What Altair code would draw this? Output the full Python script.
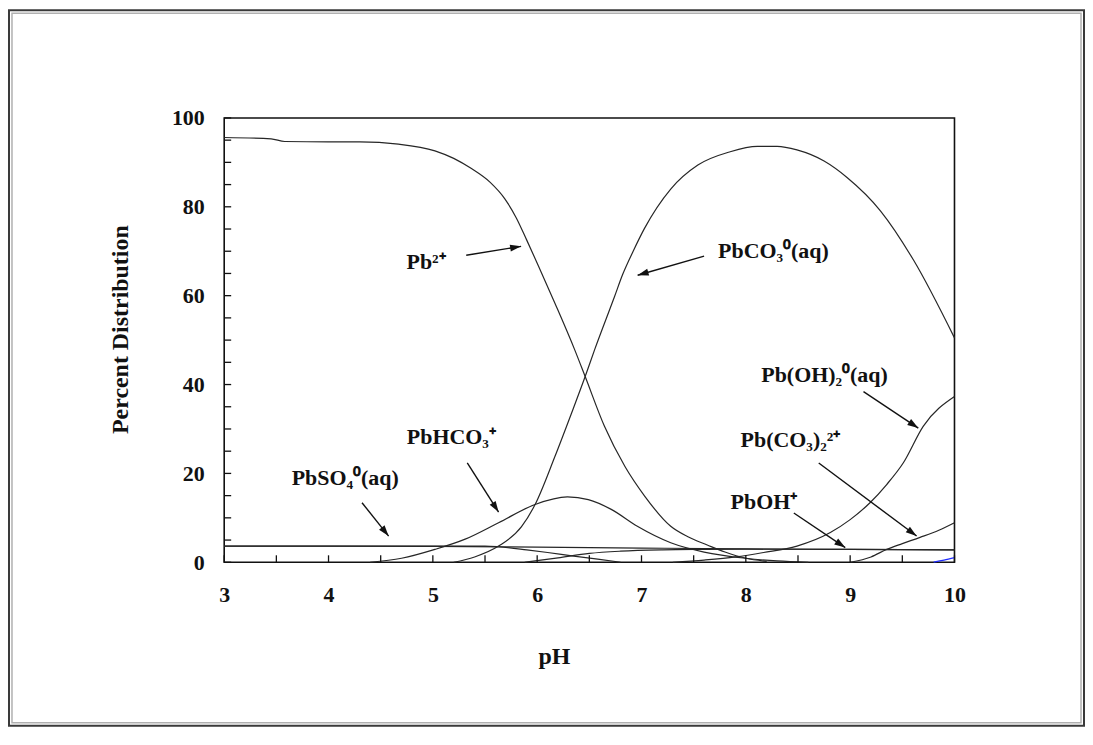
import math
import altair as alt
import pandas as pd

# ---------------- geometry (plot area) ----------------
W, H = 733, 446
PAD_L, PAD_T = 217, 109
SVG_W, SVG_H = 1081, 720
X_MIN, X_MAX = 3, 10
Y_MIN, Y_MAX = 0, 100
FONT = "Liberation Serif"
FS = 22
TFS = 24

# ---------------- data ----------------
ph_pb2 = [3.0, 3.45, 3.58, 4.0, 4.3, 4.67, 5.02, 5.2, 5.37, 5.55, 5.69, 5.8, 5.9, 6.01, 6.17,
          6.36, 6.46, 6.645, 6.84, 7.03, 7.28, 7.44, 7.63, 7.8, 8.0, 8.2]
pct_pb2 = [95.6, 95.3, 94.7, 94.6, 94.6, 94.1, 92.6, 90.9, 88.6, 85.5, 81.8, 77.5, 72.5, 66.8,
           58.3, 47.8, 41.8, 30.6, 21.6, 14.9, 8.1, 5.8, 3.9, 2.3, 0.9, 0.2]

ph_pbco3 = [5.2, 5.4, 5.63, 5.85, 5.98, 6.17, 6.33, 6.46, 6.55, 6.74, 6.82, 6.92, 7.03, 7.28,
            7.54, 7.85, 8.11, 8.3, 8.49, 8.75, 8.97, 9.29, 9.61, 10.0]
pct_pbco3 = [0.0, 1.2, 3.65, 8.0, 13.0, 23.8, 33.6, 41.8, 47.8, 59.7, 64.8, 70.0, 75.2, 84.0,
             89.4, 92.4, 93.6, 93.6, 92.8, 90.3, 86.6, 79.1, 67.9, 50.5]

ph_pbhco3 = [4.4, 4.7, 5.02, 5.31, 5.63, 5.98, 6.29, 6.49, 6.71, 6.96, 7.28, 7.6, 8.0, 8.3, 8.6]
pct_pbhco3 = [0.0, 0.9, 2.9, 5.2, 8.9, 13.0, 14.7, 14.1, 11.9, 8.1, 4.4, 2.3, 0.9, 0.3, 0.0]

ph_pbso4 = [3.0, 4.0, 5.0, 5.5, 5.63, 5.9, 6.1, 6.35, 6.58, 6.8]
pct_pbso4 = [3.65, 3.65, 3.65, 3.65, 3.5, 2.8, 2.2, 1.4, 0.7, 0.0]

ph_flat = [3.0, 5.0, 6.0, 7.0, 8.0, 9.0, 10.0]
pct_flat = [3.65, 3.6, 3.4, 3.2, 3.0, 2.9, 2.8]

ph_pboh = [5.88, 6.2, 6.5, 6.8, 7.2, 7.6, 8.0, 9.0, 10.0]
pct_pboh = [0.0, 1.0, 2.0, 2.5, 2.8, 2.9, 2.95, 2.9, 2.8]

ph_pboh2 = [7.3, 7.6, 7.9, 8.17, 8.49, 8.81, 9.0, 9.19, 9.35, 9.51, 9.7, 10.0]
pct_pboh2 = [0.0, 0.5, 1.2, 2.2, 3.65, 6.7, 9.6, 13.4, 17.5, 22.4, 30.6, 37.3]

ph_pbco32 = [9.0, 9.2, 9.35, 9.5, 9.67, 9.85, 10.0]
pct_pbco32 = [0.0, 1.2, 2.9, 4.2, 5.6, 7.2, 8.9]

ph_blue = [9.8, 9.9, 10.0]
pct_blue = [0.05, 0.5, 1.05]

series_names = ["Pb2+", "PbCO3", "PbHCO3+", "PbSO4", "flat", "PbOH+", "Pb(OH)2", "Pb(CO3)2", "blue"]
series_x = [ph_pb2, ph_pbco3, ph_pbhco3, ph_pbso4, ph_flat, ph_pboh, ph_pboh2, ph_pbco32, ph_blue]
series_y = [pct_pb2, pct_pbco3, pct_pbhco3, pct_pbso4, pct_flat, pct_pboh, pct_pboh2, pct_pbco32, pct_blue]
series_colors = ["#262626"] * 8 + ["#1f2bff"]

label_text = ["Pb\u00b2\u207a", "PbCO\u2083\u2070(aq)", "Pb(OH)\u2082\u2070(aq)",
              "Pb(CO\u2083)\u2082\u00b2\u207a", "PbOH\u207a", "PbHCO\u2083\u207a", "PbSO\u2084\u2070(aq)"]
label_x = [4.748, 7.734, 8.148, 7.950, 7.854, 4.751, 3.647]
label_y = [66.1, 68.4, 40.5, 25.9, 12.1, 26.7, 17.5]

arrow_x1 = [5.32, 7.60, 9.128, 8.699, 8.46, 5.33, 4.321]
arrow_y1 = [69.1, 68.9, 38.4, 22.35, 11.1, 22.35, 13.4]
arrow_x2 = [5.846, 6.963, 9.653, 9.637, 8.953, 5.63, 4.576]
arrow_y2 = [71.1, 64.6, 30.2, 5.9, 3.3, 11.3, 5.9]

x_tick_labels = [3, 4, 5, 6, 7, 8, 9, 10]
y_tick_labels = [0, 20, 40, 60, 80, 100]
x_tick_marks = [3, 3.5, 4, 4.5, 5, 5.5, 6, 6.5, 7, 7.5, 8, 8.5, 9, 9.5, 10]
y_tick_marks = list(range(0, 101, 5))

# ---------------- tables ----------------
rows = []
for name, xs_, ys_ in zip(series_names, series_x, series_y):
    for i, (xv, yv) in enumerate(zip(xs_, ys_)):
        rows.append({"series": name, "ph": xv, "pct": yv, "order": i})
curves = pd.DataFrame(rows)

px_per_x = W / (X_MAX - X_MIN)
px_per_y = H / (Y_MAX - Y_MIN)
angles = []
for a, b, c, d in zip(arrow_x1, arrow_y1, arrow_x2, arrow_y2):
    dx = (c - a) * px_per_x
    dy = -(d - b) * px_per_y
    angles.append(math.degrees(math.atan2(dx, -dy)) % 360)
arrows = pd.DataFrame({"ax": arrow_x1, "ay": arrow_y1, "bx": arrow_x2, "by": arrow_y2, "ang": angles})
labels = pd.DataFrame({"t": label_text, "lx": label_x, "ly": label_y})
xt = pd.DataFrame({"v": x_tick_marks})
yt = pd.DataFrame({"v": y_tick_marks})
one = pd.DataFrame({"k": [0]})

xs = alt.Scale(domain=[X_MIN, X_MAX], nice=False, zero=False)
ys = alt.Scale(domain=[Y_MIN, Y_MAX], nice=False, zero=False)

x_axis = alt.Axis(
    orient="bottom", values=x_tick_labels, format="d", ticks=False, domain=False, grid=False,
    labelFlush=False, labelPadding=22, title="pH", titleX=331, titleY=95,
    titleBaseline="middle", titleAlign="center", zindex=2)
y_axis = alt.Axis(
    orient="left", values=y_tick_labels, format="d", ticks=False, domain=False, grid=False,
    labelFlush=False, labelPadding=20, title="Percent Distribution", titleX=-104, titleY=212,
    titleAngle=270, titleBaseline="middle", titleAlign="center", zindex=2)

# ---------------- layers ----------------
lines = alt.Chart(curves).mark_line(strokeWidth=1.2, interpolate="monotone").encode(
    x=alt.X("ph:Q", scale=xs, axis=x_axis),
    y=alt.Y("pct:Q", scale=ys, axis=y_axis),
    color=alt.Color("series:N", scale=alt.Scale(domain=series_names, range=series_colors), legend=None),
    detail="series:N",
    order="order:Q",
)

ticks_x = alt.Chart(xt).mark_rule(color="#111", strokeWidth=1.3).encode(
    x=alt.X("v:Q", scale=xs, axis=x_axis), y=alt.value(H), y2=alt.value(H - 7))
ticks_y = alt.Chart(yt).mark_rule(color="#111", strokeWidth=1.3).encode(
    y=alt.Y("v:Q", scale=ys, axis=y_axis), x=alt.value(0), x2=alt.value(7))

shafts = alt.Chart(arrows).mark_rule(color="#111", strokeWidth=1.4).encode(
    x=alt.X("ax:Q", scale=xs, axis=x_axis), y=alt.Y("ay:Q", scale=ys, axis=y_axis),
    x2="bx:Q", y2="by:Q")
heads = alt.Chart(arrows).mark_point(
    shape="M0,0L0.32,1L-0.32,1Z", filled=True, color="#111", opacity=1, size=484).encode(
    x=alt.X("bx:Q", scale=xs, axis=x_axis), y=alt.Y("by:Q", scale=ys, axis=y_axis),
    angle=alt.Angle("ang:Q", scale=None))

texts = alt.Chart(labels).mark_text(
    align="left", baseline="alphabetic", font=FONT, fontSize=FS, fontWeight="bold", color="#111").encode(
    x=alt.X("lx:Q", scale=xs, axis=x_axis), y=alt.Y("ly:Q", scale=ys, axis=y_axis), text="t:N")

frame_dark = alt.Chart(one).mark_rect(filled=False, fill="transparent", stroke="#3a3a3a", strokeWidth=2).encode(
    x=alt.value(-PAD_L + 1), x2=alt.value(SVG_W - PAD_L - 1),
    y=alt.value(-PAD_T + 1), y2=alt.value(SVG_H - PAD_T - 1))
frame_light = alt.Chart(one).mark_rect(filled=False, fill="transparent", stroke="#b0b0b0", strokeWidth=1.5).encode(
    x=alt.value(-PAD_L + 4), x2=alt.value(SVG_W - PAD_L - 4),
    y=alt.value(-PAD_T + 4), y2=alt.value(SVG_H - PAD_T - 4))

chart = alt.layer(lines, ticks_x, ticks_y, shafts, heads, texts, frame_dark, frame_light).properties(
    width=W, height=H,
    padding={"left": PAD_L, "top": PAD_T, "right": SVG_W - PAD_L - W, "bottom": SVG_H - PAD_T - H},
    autosize=alt.AutoSizeParams(type="none"),
).configure_view(stroke="#111", strokeWidth=1.6).configure_axis(
    labelFont=FONT, labelFontSize=FS, labelFontWeight="bold", labelColor="#111",
    titleFont=FONT, titleFontSize=TFS, titleFontWeight="bold", titleColor="#111",
)

chart.save("out.html", embed_options={"renderer": "svg", "actions": False})
